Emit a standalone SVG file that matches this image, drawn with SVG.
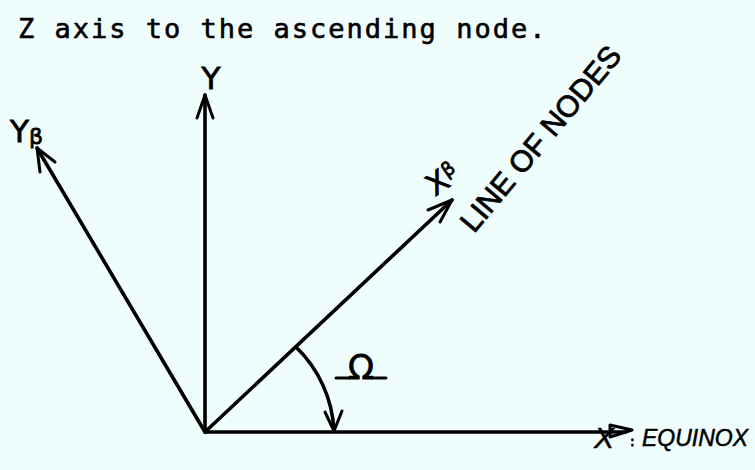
<svg xmlns="http://www.w3.org/2000/svg" width="755" height="470" viewBox="0 0 755 470">
<defs>
<style>
.ax{stroke:#000;stroke-width:3.6;fill:none;stroke-linecap:round}
.hd{stroke:#000;stroke-width:3;fill:none;stroke-linecap:round;stroke-linejoin:round}
.lb{font-family:"DejaVu Sans","Liberation Sans",sans-serif;fill:#000;stroke:#000;stroke-width:0.8}
.ls{font-family:"Liberation Sans","DejaVu Sans",sans-serif;fill:#000;stroke:#000;stroke-width:0.8}
.it{font-family:"Liberation Sans","DejaVu Sans",sans-serif;font-style:italic;fill:#000;stroke:#000;stroke-width:0.5}
</style>
</defs>
<rect width="755" height="470" fill="#effdfd"/>
<text x="18" y="38" font-family="'DejaVu Sans Mono','Liberation Mono',monospace" font-size="27" letter-spacing="2" fill="#000" stroke="#000" stroke-width="0.6">Z axis to the ascending node.</text>
<g id="connectors">
<line class="ax" x1="205" y1="432" x2="205" y2="95"/>
<polyline class="hd" points="197,118 205,95 213,118"/>
<line class="ax" x1="205" y1="432" x2="37" y2="148"/>
<polyline class="hd" points="40,172 37,148 55,162"/>
<line class="ax" x1="205" y1="432" x2="452" y2="200"/>
<polyline class="hd" points="428,210 452,200 440,222"/>
<line class="ax" x1="205" y1="432" x2="626" y2="432"/>
<polygon class="hd" points="610,425 632,430 610,437" fill="#effdfd"/>
<path class="ax" d="M296,347 A125,125 0 0 1 334,431"/>
<polyline class="hd" points="325,412 334,431 342,411"/>
</g>
<g id="node-Y"><text class="lb" x="211" y="89" font-size="31" text-anchor="middle">Y</text></g>
<g id="node-Yb"><text class="lb" x="10" y="142" font-size="31">Y<tspan font-size="22" dy="2">β</tspan></text></g>
<g id="node-Xb"><text class="lb" font-size="30" transform="translate(435,197) rotate(-35)">X<tspan font-size="19" dy="-9">β</tspan></text></g>
<g id="node-line"><text class="ls" font-size="30" transform="translate(474,234) rotate(-50)">LINE OF NODES</text></g>
<g id="node-X"><text class="it" x="594" y="448" font-size="30">X</text><text class="lb" x="630" y="446" font-size="14" stroke-width="0">:</text><text class="it" x="642" y="446" font-size="23">EQUINOX</text></g>
<g id="node-omega"><text class="lb" x="361" y="379" font-size="34" text-anchor="middle" stroke-width="0.5">Ω</text><line class="hd" x1="336" y1="378" x2="349" y2="378"/><line class="hd" x1="373" y1="378" x2="386" y2="378"/></g>
</svg>
